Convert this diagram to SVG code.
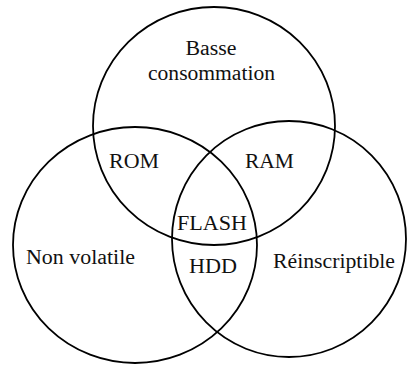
<svg xmlns="http://www.w3.org/2000/svg" width="407" height="365" viewBox="0 0 407 365">
<style>
.set{fill:none;stroke:#000;stroke-width:1.8}
.lbl{font-family:"Liberation Serif","Times New Roman",serif;font-size:20px;fill:#111;text-anchor:middle}
</style>
<rect width="407" height="365" fill="#fff"/>
<g id="connectors"></g>
<g id="basse-consommation">
<ellipse class="set" cx="214" cy="126" rx="121" ry="119"/>
<text class="lbl" x="211" y="55" textLength="51" lengthAdjust="spacingAndGlyphs">Basse</text>
<text class="lbl" x="211.5" y="80" textLength="127" lengthAdjust="spacingAndGlyphs">consommation</text>
</g>
<g id="non-volatile">
<ellipse class="set" cx="135" cy="245" rx="122" ry="118"/>
<text class="lbl" x="80.5" y="264" textLength="109" lengthAdjust="spacingAndGlyphs">Non volatile</text>
</g>
<g id="reinscriptible">
<ellipse class="set" cx="289" cy="239" rx="117" ry="118"/>
<text class="lbl" x="334" y="268" textLength="122" lengthAdjust="spacingAndGlyphs">Réinscriptible</text>
</g>
<g id="rom"><text class="lbl" x="134" y="168" textLength="50" lengthAdjust="spacingAndGlyphs">ROM</text></g>
<g id="ram"><text class="lbl" x="269.5" y="168" textLength="49" lengthAdjust="spacingAndGlyphs">RAM</text></g>
<g id="flash"><text class="lbl" x="212" y="230" textLength="70" lengthAdjust="spacingAndGlyphs">FLASH</text></g>
<g id="hdd"><text class="lbl" x="213" y="273" textLength="48" lengthAdjust="spacingAndGlyphs">HDD</text></g>
</svg>
